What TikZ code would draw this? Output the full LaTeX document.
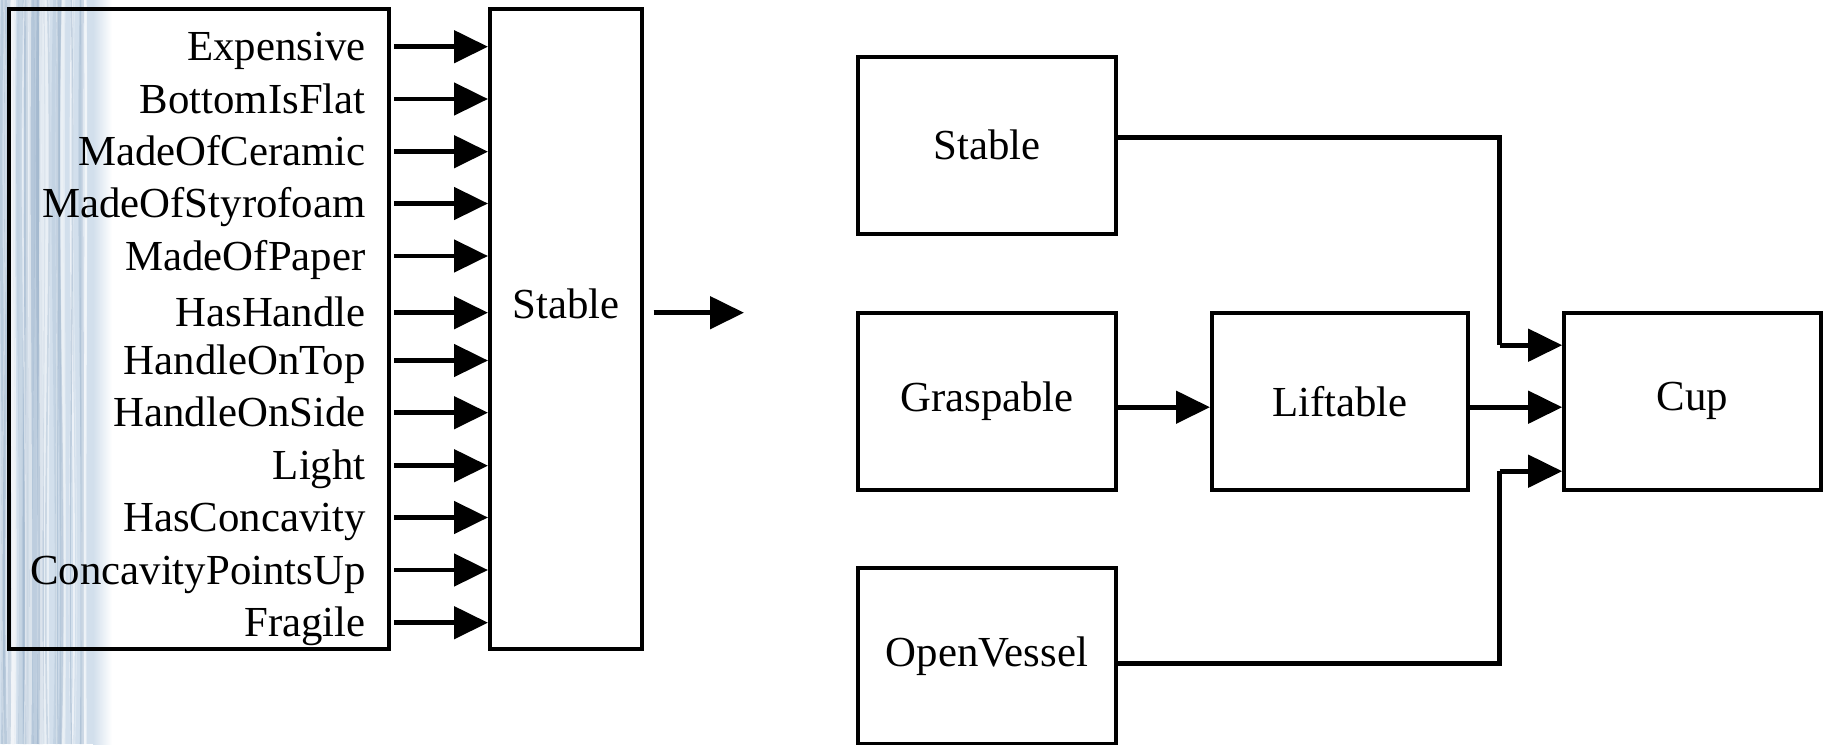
\documentclass[tikz,border=0pt]{standalone}
\usepackage{fontspec}
\setmainfont{Liberation Serif}
\usepackage{tikz}
\usetikzlibrary{arrows.meta}

\definecolor{water}{RGB}{210,223,236}
\definecolor{waterdk}{RGB}{160,182,205}

\tikzset{
  box/.style={draw,line width=2pt,fill=white,inner sep=0pt},
  arr/.style={line width=2.4pt,-{Triangle[length=17pt,width=16pt]}},
  wire/.style={line width=2.4pt}
}

\begin{document}
\begin{tikzpicture}[x=0.5pt,y=-0.5pt,font=\fontsize{21.4}{25}\selectfont]
\useasboundingbox (0,0) rectangle (1823,744);
% watery strip on the left
\fill[water] (0,0) rectangle (94,744);
\shade[left color=water,right color=white] (93,0) rectangle (112,744);
\pgfmathsetseed{7}
\foreach \k in {1,...,45}{
  \pgfmathsetmacro{\x}{2+rnd*90}
  \pgfmathsetmacro{\dx}{rnd*14-7}
  \pgfmathsetmacro{\lw}{0.5+rnd*2.5}
  \pgfmathsetmacro{\op}{0.2+rnd*0.4}
  \ifodd\k
    \draw[waterdk,line width=\lw pt,opacity=\op] (\x,0) .. controls (\x+\dx,250) and (\x-\dx,500) .. (\x,744);
  \else
    \draw[white,line width=\lw pt,opacity=\op] (\x,0) .. controls (\x-\dx,250) and (\x+\dx,500) .. (\x,744);
  \fi
}

% feature box and the stable unit
\node[draw,line width=2pt,minimum width=190pt,minimum height=320pt] (inputs) at (199,329) {};
\node[box,minimum width=75.75pt,minimum height=320pt] (stab) at (565.75,329) {};
\node (stabtxt) at (566,304) {Stable};

\foreach \name/\y [count=\i] in {Expensive/46.7,BottomIsFlat/99,MadeOfCeramic/151.7,MadeOfStyrofoam/203.5,MadeOfPaper/256,HasHandle/312.7,HandleOnTop/360.5,HandleOnSide/412.7,Light/465.7,HasConcavity/517.5,ConcavityPointsUp/570,Fragile/622.7}
{
  \coordinate (l\i) at (0,\y);
  \node[anchor=base east,inner sep=0pt] (f\i) at (366,\y+14) {\name};
  \draw[arr] ([xshift=1.5pt]l\i -| inputs.east) -- (l\i -| stab.west);
}
\coordinate (outend) at (744,312.7);
\draw[arr] ([xshift=5pt]stab.east |- outend) -- (outend);

% the network
\node[box,minimum width=129.4pt,minimum height=88.3pt] (stable) at (987,145.3) {Stable};
\node[box,minimum width=129.4pt,minimum height=88.3pt] (grasp) at (987,401.2) {Graspable};
\node[box,minimum width=129.4pt,minimum height=88.3pt] (open) at (987,656) {OpenVessel};
\node[box,minimum width=128pt,minimum height=88.3pt] (lift) at (1340,401.2) {Liftable};
\node[box,minimum width=128.4pt,minimum height=88.3pt] (cup) at (1692.6,401.2) {Cup};

\coordinate (jx) at (1499.5,0);
\coordinate (cuptop) at ([yshift=28pt]cup.west);
\coordinate (cupbot) at ([yshift=-35pt]cup.west);
\draw[wire] ([yshift=4pt]stable.east) -| (jx |- cuptop);
\draw[arr] (jx |- cuptop) -- (cuptop);
\draw[wire] ([yshift=-3.75pt]open.east) -| (jx |- cupbot);
\draw[arr] (jx |- cupbot) -- (cupbot);
\draw[arr] ([yshift=-3pt]grasp.east) -- ([yshift=-3pt]lift.west);
\draw[arr] ([yshift=-3pt]lift.east) -- ([yshift=-3pt]cup.west);
\end{tikzpicture}
\end{document}
